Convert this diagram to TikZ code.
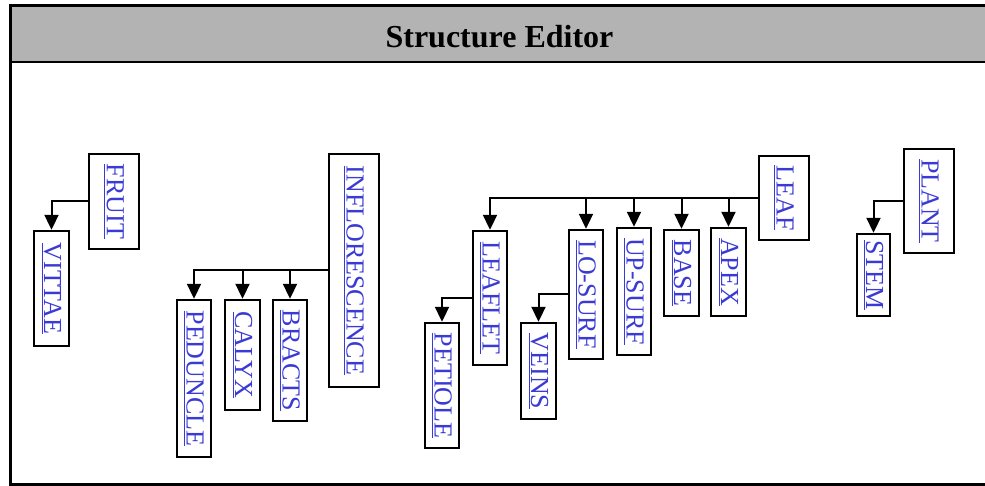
\documentclass[tikz,border=0pt]{standalone}
\usepackage{fontspec}
\setmainfont{Liberation Serif}
\usetikzlibrary{arrows.meta}
\definecolor{titlegray}{RGB}{179,179,179}
\definecolor{linkblue}{RGB}{58,58,212}
% underlined, rotated label read from top to bottom
\newcommand\partlabel[1]{\rotatebox{-90}{\setbox0\hbox{#1}\rlap{\rule[-2.6pt]{\wd0}{0.9pt}}\box0}}
\tikzset{
  part/.style={draw=black, line width=2.4pt, fill=white, inner sep=0pt,
    text=linkblue, font=\fontsize{26}{30}\selectfont},
  link/.style={line width=2pt, -{Triangle[width=14pt,length=15pt]}},
}
\begin{document}
\begin{tikzpicture}[x=1pt,y=-1pt]
\useasboundingbox (0,0) rectangle (985,486);
% window frame and title bar
\fill[titlegray] (10,6) rectangle (986,62);
\draw[line width=2.2pt] (10,62) -- (986,62);
\draw[line width=3pt] (986,6) -- (10,6) -- (10,484.5) -- (986,484.5);
\node[font=\fontsize{32}{36}\selectfont\bfseries] (title) at (499.5,37) {Structure Editor};

% FRUIT
\node[part, minimum width=50, minimum height=95] (fruit) at (114,201.5) {\partlabel{FRUIT}};
\node[part, minimum width=35, minimum height=115] (vittae) at (51.5,288.5) {\partlabel{VITTAE}};

% INFLORESCENCE
\node[part, minimum width=50, minimum height=233] (infl) at (354,270.5) {\partlabel{INFLORESCENCE}};
\node[part, minimum width=34, minimum height=157] (peduncle) at (194,378.5) {\partlabel{PEDUNCLE}};
\node[part, minimum width=35, minimum height=110] (calyx) at (242.5,355) {\partlabel{CALYX}};
\node[part, minimum width=34, minimum height=121] (bracts) at (290,360.5) {\partlabel{BRACTS}};

% LEAF
\node[part, minimum width=50, minimum height=84] (leaf) at (784,198) {\partlabel{LEAF}};
\node[part, minimum width=34, minimum height=134] (leaflet) at (490,298) {\partlabel{LEAFLET}};
\node[part, minimum width=34, minimum height=125] (petiole) at (442,385.5) {\partlabel{PETIOLE}};
\node[part, minimum width=34, minimum height=129] (losurf) at (586,294.5) {\partlabel{LO-SURF}};
\node[part, minimum width=35, minimum height=96] (veins) at (538.5,371) {\partlabel{VEINS}};
\node[part, minimum width=34, minimum height=127] (upsurf) at (634,291.5) {\partlabel{UP-SURF}};
\node[part, minimum width=35, minimum height=86] (base) at (681.5,273) {\partlabel{BASE}};
\node[part, minimum width=35, minimum height=88] (apex) at (728.5,272) {\partlabel{APEX}};

% PLANT
\node[part, minimum width=50, minimum height=104] (plant) at (929,201) {\partlabel{PLANT}};
\node[part, minimum width=33, minimum height=82] (stem) at (873.5,275) {\partlabel{STEM}};

% connectors
\draw[link] (fruit.west) -| (vittae.north);
\draw[link] (infl.west) -| (peduncle.north);
\draw[link] (infl.west) -| (calyx.north);
\draw[link] (infl.west) -| (bracts.north);
\draw[link] (leaf.west) -| (leaflet.north);
\draw[link] (leaf.west) -| (losurf.north);
\draw[link] (leaf.west) -| (upsurf.north);
\draw[link] (leaf.west) -| (base.north);
\draw[link] (leaf.west) -| (apex.north);
\draw[link] (leaflet.west) -| (petiole.north);
\draw[link] (losurf.west) -| (veins.north);
\draw[link] (plant.west) -| (stem.north);
\end{tikzpicture}
\end{document}
